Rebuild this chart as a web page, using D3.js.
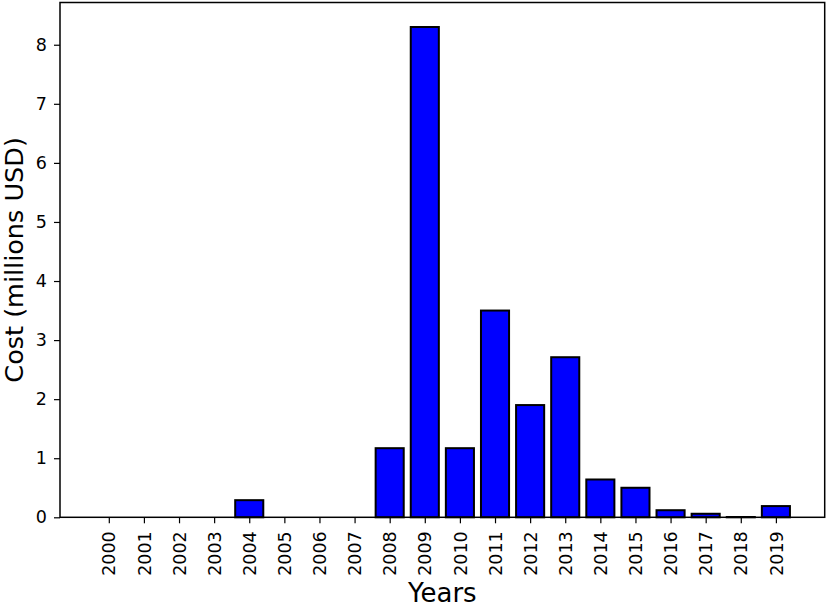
<!DOCTYPE html>
<html>
<head>
<meta charset="utf-8">
<script src="https://cdn.jsdelivr.net/npm/d3@7"></script>
<style>
  body { margin: 0; background: #fff; }
  svg { display: block; }
  svg text { font-family: "DejaVu Sans", sans-serif; }
</style>
</head>
<body>
<div id="chart"></div>
<script>
// Chart data
const years = ["2000", "2001", "2002", "2003", "2004", "2005", "2006", "2007", "2008", "2009",
               "2010", "2011", "2012", "2013", "2014", "2015", "2016", "2017", "2018", "2019"];
const costs = [0, 0, 0, 0, 0.29, 0, 0, 0, 1.17, 8.30,
               1.17, 3.50, 1.90, 2.71, 0.64, 0.50, 0.12, 0.06, 0.005, 0.19];
const yTicks = [0, 1, 2, 3, 4, 5, 6, 7, 8];

const W = 829, H = 608;
const margin = { top: 2.5, right: 4.3, bottom: 90.7, left: 60 };
const width = W - margin.left - margin.right;
const height = H - margin.top - margin.bottom;

const svg = d3.select("#chart")
    .append("svg")
    .attr("width", W)
    .attr("height", H);

const g = svg.append("g")
    .attr("transform", `translate(${margin.left},${margin.top})`);

// numeric x scale like matplotlib (bar index, with 5% margins)
const barW = 0.8;
const lo = -barW / 2, hi = years.length - 1 + barW / 2;
const pad = (hi - lo) * 0.05;
const x = d3.scaleLinear()
    .domain([lo - pad, hi + pad])
    .range([0, width]);

const y = d3.scaleLinear()
    .domain([0, d3.max(costs) * 1.05])
    .range([height, 0]);

// bars
g.selectAll(".bar")
    .data(costs)
    .enter().append("rect")
    .attr("class", "bar")
    .attr("x", (d, i) => x(i - barW / 2))
    .attr("y", d => y(d))
    .attr("width", x(barW) - x(0))
    .attr("height", d => height - y(d))
    .attr("fill", "#0000ff")
    .attr("stroke", "#000")
    .attr("stroke-width", 2);

// x axis
const xAxis = g.append("g")
    .attr("transform", `translate(0,${height})`)
    .attr("font-family", "DejaVu Sans")
    .call(d3.axisBottom(x)
        .tickValues(d3.range(years.length))
        .tickFormat(i => years[i])
        .tickSize(6)
        .tickPadding(8));

xAxis.select(".domain").remove();
xAxis.selectAll(".tick line").attr("stroke-width", 1.2);
xAxis.selectAll("text")
    .attr("font-size", "17.5px")
    .attr("fill", "#000")
    .attr("transform", "rotate(-90)")
    .attr("x", -14)
    .attr("y", 0)
    .attr("dy", "0.35em")
    .style("text-anchor", "end");

// y axis
const yAxis = g.append("g")
    .attr("font-family", "DejaVu Sans")
    .call(d3.axisLeft(y)
        .tickValues(yTicks)
        .tickSize(6)
        .tickPadding(7));

yAxis.select(".domain").remove();
yAxis.selectAll(".tick line").attr("stroke-width", 1.2);
yAxis.selectAll("text")
    .attr("font-size", "17.5px")
    .attr("fill", "#000");

// frame
g.append("rect")
    .attr("x", 0)
    .attr("y", 0)
    .attr("width", width)
    .attr("height", height)
    .attr("fill", "none")
    .attr("stroke", "#000")
    .attr("stroke-width", 1.5);

// axis labels
svg.append("text")
    .attr("x", margin.left + width / 2)
    .attr("y", 602)
    .attr("text-anchor", "middle")
    .attr("font-size", "26px")
    .text("Years");

svg.append("text")
    .attr("transform", `translate(23,${margin.top + height / 2}) rotate(-90)`)
    .attr("text-anchor", "middle")
    .attr("font-size", "25.5px")
    .text("Cost (millions USD)");
</script>
</body>
</html>
